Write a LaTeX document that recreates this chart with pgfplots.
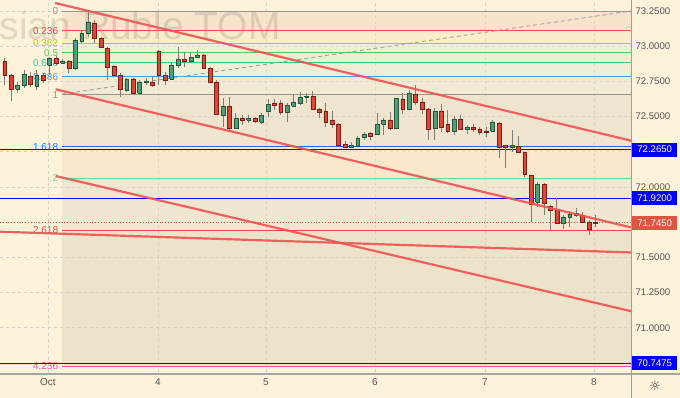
\documentclass[border=0pt]{standalone}
\usepackage{pgfplots}
\pgfplotsset{compat=1.18}
\usepackage{pgfplotstable}
\usepackage{fontspec}
\setmainfont{Liberation Sans}
\newfontfamily\dejavu{DejaVu Sans}

\definecolor{bg}{RGB}{253,243,219}
\definecolor{gridc}{RGB}{214,208,196}
\definecolor{labc}{RGB}{85,85,85}
\definecolor{cg}{RGB}{80,158,118}
\definecolor{cge}{RGB}{38,86,60}
\definecolor{cr}{RGB}{216,72,58}
\definecolor{cre}{RGB}{125,30,25}
\definecolor{cwick}{RGB}{125,125,115}
\definecolor{trend}{RGB}{240,82,82}
\definecolor{hblue}{RGB}{0,0,250}
\definecolor{pricered}{RGB}{222,86,66}
% fib colours
\definecolor{f0}{RGB}{150,150,140}
\definecolor{f236}{RGB}{222,80,80}
\definecolor{f382}{RGB}{160,205,60}
\definecolor{f5}{RGB}{90,200,90}
\definecolor{f618}{RGB}{70,190,150}
\definecolor{f786}{RGB}{75,155,215}
\definecolor{f1618}{RGB}{41,98,255}
\definecolor{f2}{RGB}{110,210,170}
\definecolor{f2618}{RGB}{222,80,80}
\definecolor{f4236}{RGB}{228,90,160}
% fib bands (drawn at 50% opacity)
\definecolor{b0}{RGB}{247,213,191}
\definecolor{b1}{RGB}{247,233,191}
\definecolor{b2}{RGB}{233,237,191}
\definecolor{b3}{RGB}{223,237,197}
\definecolor{b4}{RGB}{227,233,205}
\definecolor{b5}{RGB}{231,229,211}
\definecolor{b6}{RGB}{227,217,197}
\definecolor{b7}{RGB}{251,223,191}
\definecolor{b8}{RGB}{227,221,197}
\definecolor{b9}{RGB}{223,213,187}

% hourly candles: index, open, high, low, close
\pgfplotstableread{
x o h l c
0 72.890 72.916 72.724 72.795
1 72.795 72.800 72.611 72.696
2 72.696 72.746 72.668 72.724
3 72.724 72.831 72.703 72.803
4 72.788 72.817 72.710 72.732
5 72.717 72.831 72.689 72.795
6 72.795 72.810 72.739 72.760
7 72.866 72.923 72.795 72.916
8 72.916 72.930 72.866 72.881
9 72.881 72.909 72.874 72.895
10 72.895 72.902 72.810 72.845
11 72.845 73.058 72.831 73.044
12 73.037 73.115 73.023 73.094
13 73.094 73.243 73.065 73.172
14 73.165 73.186 73.023 73.058
15 73.058 73.065 72.987 72.994
16 72.987 72.994 72.760 72.852
17 72.859 72.866 72.781 72.795
18 72.795 72.810 72.639 72.696
19 72.689 72.774 72.675 72.767
20 72.767 72.774 72.661 72.668
21 72.668 72.760 72.661 72.746
22 72.746 72.774 72.724 72.753
23 72.746 72.781 72.710 72.724
24 72.966 72.973 72.724 72.795
25 72.795 72.817 72.724 72.760
26 72.767 72.881 72.760 72.866
27 72.866 72.994 72.845 72.909
28 72.909 72.959 72.852 72.895
29 72.895 72.959 72.881 72.923
30 72.923 72.973 72.916 72.938
31 72.938 72.945 72.843 72.845
32 72.845 72.852 72.739 72.746
33 72.746 72.760 72.511 72.518
34 72.511 72.632 72.426 72.575
35 72.575 72.639 72.405 72.419
36 72.419 72.526 72.415 72.490
37 72.490 72.511 72.440 72.476
38 72.476 72.511 72.455 72.490
39 72.490 72.497 72.455 72.469
40 72.462 72.526 72.447 72.511
41 72.540 72.625 72.497 72.589
42 72.597 72.625 72.547 72.582
43 72.597 72.618 72.511 72.533
44 72.533 72.597 72.462 72.582
45 72.575 72.661 72.568 72.604
46 72.597 72.675 72.582 72.639
47 72.639 72.668 72.597 72.646
48 72.646 72.682 72.547 72.554
49 72.554 72.561 72.490 72.533
50 72.540 72.597 72.426 72.462
51 72.476 72.540 72.419 72.447
52 72.447 72.455 72.291 72.298
53 72.305 72.327 72.277 72.284
54 72.284 72.320 72.277 72.298
55 72.291 72.362 72.284 72.348
56 72.355 72.391 72.334 72.376
57 72.384 72.391 72.334 72.362
58 72.376 72.526 72.369 72.447
59 72.447 72.490 72.369 72.476
60 72.476 72.533 72.405 72.419
61 72.419 72.635 72.412 72.632
62 72.625 72.668 72.518 72.554
63 72.554 72.689 72.547 72.668
64 72.661 72.724 72.582 72.604
65 72.604 72.632 72.518 72.554
66 72.554 72.561 72.334 72.412
67 72.419 72.561 72.334 72.540
68 72.540 72.589 72.391 72.426
69 72.447 72.547 72.384 72.398
70 72.398 72.504 72.369 72.483
71 72.483 72.511 72.405 72.412
72 72.412 72.440 72.376 72.426
73 72.426 72.447 72.391 72.412
74 72.412 72.426 72.369 72.391
75 72.398 72.426 72.355 72.391
76 72.398 72.476 72.391 72.462
77 72.455 72.462 72.206 72.284
78 72.298 72.300 72.135 72.284
79 72.284 72.405 72.249 72.298
80 72.291 72.362 72.241 72.249
81 72.249 72.252 72.071 72.092
82 72.085 72.087 71.751 71.879
83 71.893 72.036 71.858 72.021
84 72.021 72.028 71.801 71.886
85 71.865 71.872 71.695 71.837
86 71.837 71.922 71.742 71.744
87 71.744 71.801 71.702 71.787
88 71.787 71.830 71.716 71.808
89 71.801 71.851 71.787 71.815
90 71.801 71.822 71.744 71.751
91 71.751 71.766 71.659 71.702
92 71.750 71.801 71.716 71.745
}\candles

\begin{document}
\begin{tikzpicture}
\useasboundingbox (0,0) rectangle (680pt,398pt);
\fill[bg] (0,0) rectangle (680pt,398pt);
\begin{axis}[
  at={(0pt,26pt)}, anchor=south west,
  scale only axis, width=631pt, height=372pt,
  xmin=-0.73, xmax=97.55, ymin=70.6861, ymax=73.3281,
  axis line style={draw=none},
  major tick length=0pt,
  xtick={6.74,23.88,40.70,57.68,74.81,91.79},
  xticklabels={Oct,4,5,6,7,8},
  ytick={73.25,73,72.75,72.5,72.25,72,71.75,71.5,71.25,71,70.75},
  yticklabels={73.2500,73.0000,72.7500,72.5000,,72.0000,,71.5000,71.2500,71.0000,},
  yticklabel pos=right,
  grid=major,
  major grid style={draw=gridc, dash pattern=on 3pt off 3pt, line width=0.6pt},
  x tick label style={font=\fontsize{10}{12}\selectfont, text=labc, yshift=-3pt},
  y tick label style={font=\fontsize{9.6}{12}\selectfont, text=labc, anchor=west, xshift=1pt},
  no markers,
]
% fibonacci bands
\addplot[draw=none, fill=b0, fill opacity=0.5] coordinates {(8.93,73.25) (97.6,73.25) (97.6,73.109) (8.93,73.109)};
\addplot[draw=none, fill=b1, fill opacity=0.5] coordinates {(8.93,73.109) (97.6,73.109) (97.6,73.022) (8.93,73.022)};
\addplot[draw=none, fill=b2, fill opacity=0.5] coordinates {(8.93,73.022) (97.6,73.022) (97.6,72.952) (8.93,72.952)};
\addplot[draw=none, fill=b3, fill opacity=0.5] coordinates {(8.93,72.952) (97.6,72.952) (97.6,72.882) (8.93,72.882)};
\addplot[draw=none, fill=b4, fill opacity=0.5] coordinates {(8.93,72.882) (97.6,72.882) (97.6,72.782) (8.93,72.782)};
\addplot[draw=none, fill=b5, fill opacity=0.5] coordinates {(8.93,72.782) (97.6,72.782) (97.6,72.655) (8.93,72.655)};
\addplot[draw=none, fill=b6, fill opacity=0.5] coordinates {(8.93,72.655) (97.6,72.655) (97.6,72.287) (8.93,72.287)};
\addplot[draw=none, fill=b7, fill opacity=0.5] coordinates {(8.93,72.287) (97.6,72.287) (97.6,72.061) (8.93,72.061)};
\addplot[draw=none, fill=b8, fill opacity=0.5] coordinates {(8.93,72.061) (97.6,72.061) (97.6,71.693) (8.93,71.693)};
\addplot[draw=none, fill=b9, fill opacity=0.5] coordinates {(8.93,71.693) (97.6,71.693) (97.6,70.729) (8.93,70.729)};
% watermark
\node[anchor=base east, inner sep=0pt, font=\fontsize{39}{39}\selectfont, text=black, opacity=0.11] at (axis cs:43.04,73.051) {Russian Ruble TOM};
% fibonacci levels
\addplot[f0, line width=0.9pt] coordinates {(8.93,73.25) (97.6,73.25)};
\addplot[f236, line width=0.9pt] coordinates {(8.93,73.109) (97.6,73.109)};
\addplot[f382, line width=0.9pt] coordinates {(8.93,73.022) (97.6,73.022)};
\addplot[f5, line width=0.9pt] coordinates {(8.93,72.952) (97.6,72.952)};
\addplot[f618, line width=0.9pt] coordinates {(8.93,72.882) (97.6,72.882)};
\addplot[f786, line width=0.9pt] coordinates {(8.93,72.782) (97.6,72.782)};
\addplot[f0, line width=0.9pt] coordinates {(8.93,72.655) (97.6,72.655)};
\addplot[f1618, line width=0.9pt] coordinates {(8.93,72.287) (97.6,72.287)};
\addplot[f2, line width=0.9pt] coordinates {(8.93,72.061) (97.6,72.061)};
\addplot[f2618, line width=0.9pt] coordinates {(8.93,71.693) (97.6,71.693)};
\addplot[f4236, line width=0.9pt] coordinates {(8.93,70.729) (97.6,70.729)};
\begin{scope}[every node/.style={anchor=east, inner sep=0pt, font=\fontsize{10}{12}\selectfont}]
\node[text=f0] at (axis cs:8.35,73.25) {0};
\node[text=f236] at (axis cs:8.35,73.109) {0.236};
\node[text=f382] at (axis cs:8.35,73.022) {0.382};
\node[text=f5] at (axis cs:8.35,72.952) {0.5};
\node[text=f618] at (axis cs:8.35,72.882) {0.618};
\node[text=f786] at (axis cs:8.35,72.782) {0.786};
\node[text=f0] at (axis cs:8.35,72.655) {1};
\node[text=f1618] at (axis cs:8.35,72.287) {1.618};
\node[text=f2] at (axis cs:8.35,72.061) {2};
\node[text=f2618] at (axis cs:8.35,71.693) {2.618};
\node[text=f4236] at (axis cs:8.35,70.729) {4.236};
\end{scope}
% fib trend line (dashed)
\addplot[gray!80, dash pattern=on 4pt off 3pt, line width=0.8pt] coordinates {(8.93,72.660) (97.55,73.25)};
% horizontal blue levels
\addplot[hblue, line width=1.5pt] coordinates {(-0.73,72.265) (97.55,72.265)};
\addplot[hblue, line width=1.5pt] coordinates {(-0.73,71.92) (97.55,71.92)};
\addplot[hblue, line width=1.5pt] coordinates {(-0.73,70.7475) (97.55,70.7475)};
% current price line
\addplot[pricered, dotted, line width=0.8pt] coordinates {(-0.73,71.745) (97.55,71.745)};
% candles
\pgfplotsinvokeforeach{0,...,92}{%
  \pgfplotstablegetelem{#1}{x}\of\candles\edef\cx{\pgfplotsretval}%
  \pgfplotstablegetelem{#1}{o}\of\candles\edef\co{\pgfplotsretval}%
  \pgfplotstablegetelem{#1}{h}\of\candles\edef\ch{\pgfplotsretval}%
  \pgfplotstablegetelem{#1}{l}\of\candles\edef\cl{\pgfplotsretval}%
  \pgfplotstablegetelem{#1}{c}\of\candles\edef\cc{\pgfplotsretval}%
  \pgfmathsetmacro\xa{\cx-0.30}%
  \pgfmathsetmacro\xb{\cx+0.30}%
  \ifdim\co pt>\cc pt \def\cf{cr}\def\ce{cre}\else\def\cf{cg}\def\ce{cge}\fi
  \edef\tmp{%
    \noexpand\addplot[cwick, line width=0.8pt] coordinates {(\cx,\cl) (\cx,\ch)};
    \noexpand\addplot[fill=\cf, draw=\ce, line width=0.5pt] coordinates {(\xa,\co) (\xb,\co) (\xb,\cc) (\xa,\cc) (\xa,\co)};
  }\tmp
}
% trend lines
\addplot[trend, line width=2.2pt, opacity=0.9] coordinates {(7.83,73.307) (97.55,72.329)};
\addplot[trend, line width=2.2pt, opacity=0.9] coordinates {(7.94,72.694) (97.55,71.713)};
\addplot[trend, line width=2.2pt, opacity=0.9] coordinates {(7.94,72.078) (97.55,71.118)};
\addplot[trend, line width=2.2pt, opacity=0.9] coordinates {(-0.73,71.6825) (97.55,71.535)};
\end{axis}
% axis frame lines
\draw[gray!70, line width=1.2pt] (0,24pt) -- (680pt,24pt);
\draw[gray!75, line width=0.8pt] (631pt,0) -- (631pt,398pt);
% price labels
\begin{scope}[every node/.style={anchor=west, inner sep=0pt, minimum width=45pt, minimum height=14pt, text=white, font=\fontsize{9.6}{12}\selectfont}]
\node[fill=hblue] at (632pt,248.3pt) {72.2650};
\node[fill=hblue] at (632pt,199.7pt) {71.9200};
\node[fill=pricered] at (632pt,175.1pt) {71.7450};
\node[fill=hblue] at (632pt,34.6pt) {70.7475};
\end{scope}
\node[font=\dejavu\fontsize{13}{13}\selectfont, text=black!75] at (655pt,12pt) {☼};
\end{tikzpicture}
\end{document}
